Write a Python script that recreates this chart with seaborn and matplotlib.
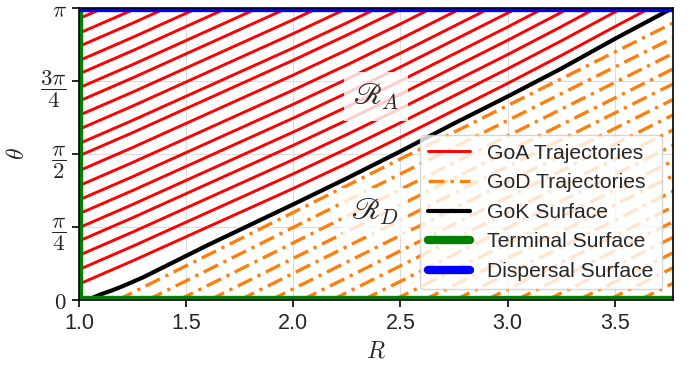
import numpy as np
import pandas as pd
import matplotlib
matplotlib.use("Agg")
import matplotlib.pyplot as plt
import seaborn as sns
from matplotlib.lines import Line2D

# ---------------- data ----------------
# GoK surface (black curve)
gok_R = [1.03, 1.06, 1.10, 1.15, 1.20, 1.30, 1.40, 1.50, 1.60, 1.75, 2.00, 2.25,
         2.50, 2.75, 3.00, 3.25, 3.50, 3.77]
gok_theta = [0.0, 0.02, 0.06, 0.10, 0.145, 0.245, 0.36, 0.475, 0.59, 0.755, 1.03, 1.31,
             1.60, 1.90, 2.19, 2.49, 2.81, 3.1416]

# GoA trajectories: starting angle on R = 1 and common shape (rise of theta vs R)
goa_start_theta = [0.171, 0.328, 0.481, 0.635, 0.778, 0.928, 1.077, 1.230, 1.391, 1.551,
                   1.683, 1.837, 1.987, 2.140, 2.283, 2.433, 2.576, 2.729, 2.871, 3.028]
goa_shape_R = [1.0, 1.25, 1.5, 1.75, 2.0, 2.25, 2.5, 2.75, 3.0, 3.25, 3.5, 3.77]
goa_shape_rise = [0.0, 0.25, 0.51, 0.77, 1.03, 1.30, 1.58, 1.87, 2.16, 2.46, 2.77, 3.10]

# GoD trajectories: starting radius on theta = 0 and common shape
god_start_R = [1.18, 1.32, 1.465, 1.61, 1.75, 1.895, 2.04, 2.18, 2.325, 2.47, 2.61,
               2.755, 2.90, 3.04, 3.185, 3.33, 3.47, 3.615, 3.76]
god_shape_dR = [0.0, 0.5, 1.0, 1.5, 2.0, 2.5, 3.0]
god_shape_rise = [0.0, 0.575, 1.15, 1.725, 2.30, 2.875, 3.45]

R_max = 3.77
x_ticks = [1.0, 1.5, 2.0, 2.5, 3.0, 3.5]
y_ticks = [0, np.pi / 4, np.pi / 2, 3 * np.pi / 4, np.pi]
y_ticklabels = [r"$0$", r"$\dfrac{\pi}{4}$", r"$\dfrac{\pi}{2}$", r"$\dfrac{3\pi}{4}$", r"$\pi$"]
legend_labels = ["GoA Trajectories", "GoD Trajectories", "GoK Surface",
                 "Terminal Surface", "Dispersal Surface"]

# ---------------- build tables ----------------
red_rows = []
for i, t0 in enumerate(goa_start_theta):
    for r, d in zip(goa_shape_R, goa_shape_rise):
        red_rows.append({"line": i, "R": r, "theta": t0 + d})
df_red = pd.DataFrame(red_rows)

org_rows = []
for i, r0 in enumerate(god_start_R):
    for dr, d in zip(god_shape_dR, god_shape_rise):
        org_rows.append({"line": i, "R": r0 + dr, "theta": d})
df_org = pd.DataFrame(org_rows)

df_gok = pd.DataFrame({"R": gok_R, "theta": gok_theta})

# ---------------- style ----------------
sns.set_style("whitegrid", {"grid.color": "#dcdcdc", "axes.edgecolor": "black"})
plt.rcParams["font.family"] = ["Liberation Sans", "DejaVu Sans"]
plt.rcParams["mathtext.fontset"] = "cm"

fig = plt.figure(figsize=(6.89, 3.66), dpi=100)
ax = fig.add_axes([0.1147, 0.1803, 0.9763 - 0.1147, 0.978 - 0.1803])

RED = "#ff0000"
ORANGE = "#ff7f0e"
GREEN = "#008000"
BLUE = "#0000ff"
dashdot = (0, (4.8, 1.8, 1.0, 1.8))

sns.lineplot(data=df_red, x="R", y="theta", units="line", estimator=None, sort=False,
             color=RED, lw=2.1, ax=ax, legend=False)
sns.lineplot(data=df_org, x="R", y="theta", units="line", estimator=None, sort=False,
             color=ORANGE, lw=2.4, ax=ax, legend=False, linestyle=dashdot)
sns.lineplot(data=df_gok, x="R", y="theta", sort=False, estimator=None,
             color="black", lw=3.0, ax=ax, legend=False)

# terminal surface (R = 1 and theta = 0) and dispersal surface (theta = pi)
df_term_v = pd.DataFrame({"R": [1.0, 1.0], "theta": [0.0, np.pi]})
df_term_h = pd.DataFrame({"R": [1.0, R_max], "theta": [0.0, 0.0]})
df_disp = pd.DataFrame({"R": [1.0, R_max], "theta": [np.pi, np.pi]})
for d, c in [(df_term_v, GREEN), (df_term_h, GREEN), (df_disp, BLUE)]:
    sns.lineplot(data=d, x="R", y="theta", sort=False, estimator=None,
                 color=c, lw=6.0, ax=ax, legend=False)

ax.set_xlim(1.0, R_max)
ax.set_ylim(0, np.pi)
ax.set_xticks(x_ticks)
ax.set_xticklabels([f"{v:.1f}" for v in x_ticks])
ax.set_yticks(y_ticks)
ax.set_yticklabels(y_ticklabels)
ax.tick_params(axis="x", which="major", labelsize=15.5, length=5, width=1.2,
               color="black", direction="out", bottom=True, pad=4)
ax.tick_params(axis="y", which="major", labelsize=16.5, length=5, width=1.2,
               color="black", direction="out", left=True, pad=4)
ax.set_xlabel(r"$R$", fontsize=17, labelpad=5)
ax.set_ylabel(r"$\theta$", fontsize=17, labelpad=8)
for s in ax.spines.values():
    s.set_color("black")
    s.set_linewidth(1.2)

bbox = dict(boxstyle="square,pad=0.3", fc="white", ec="none", alpha=0.8)
ax.text(2.385, 2.19, r"$\mathscr{R}_A$", fontsize=22, ha="center", va="center", bbox=bbox)
ax.text(2.381, 0.947, r"$\mathscr{R}_D$", fontsize=22, ha="center", va="center", bbox=bbox)

handles = [
    Line2D([], [], color=RED, lw=2.1),
    Line2D([], [], color=ORANGE, lw=2.4, linestyle=dashdot),
    Line2D([], [], color="black", lw=3.0),
    Line2D([], [], color=GREEN, lw=6.0),
    Line2D([], [], color=BLUE, lw=6.0),
]
leg = ax.legend(handles, legend_labels, loc="lower right", fontsize=15.2,
                framealpha=0.8, edgecolor="#cccccc", fancybox=True)

fig.savefig("out.png", dpi=100)
